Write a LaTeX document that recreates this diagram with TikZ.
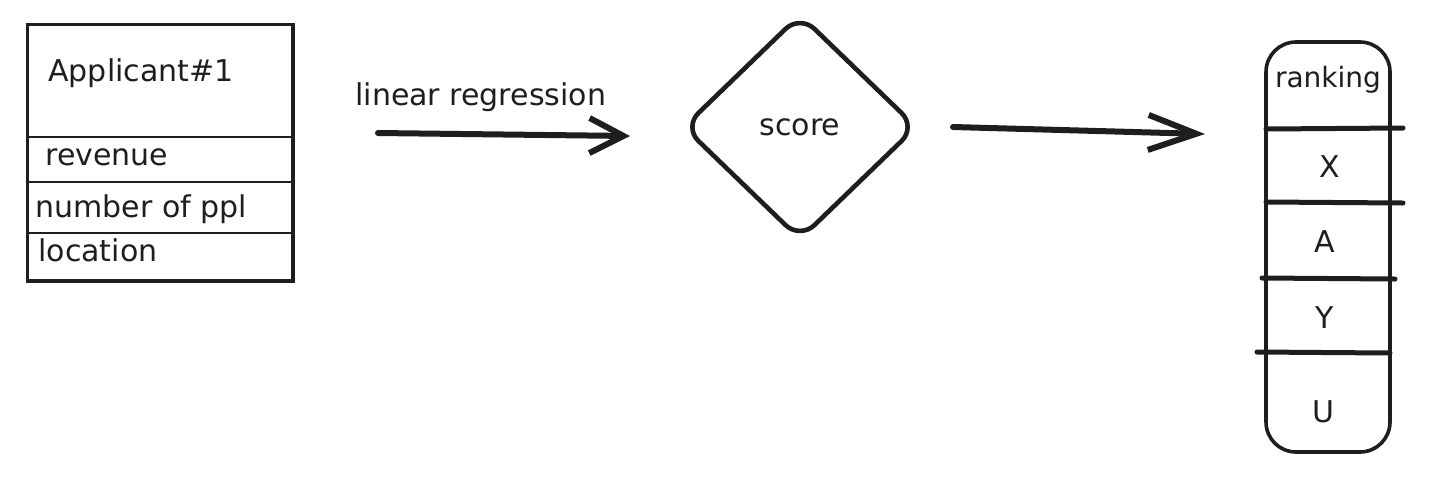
\documentclass[tikz,border=0pt]{standalone}
\usepackage{fontspec}
\setmainfont{DejaVu Sans}
\usetikzlibrary{arrows.meta,shapes.geometric}
\definecolor{ink}{HTML}{1E1E1E}
\begin{document}
\begin{tikzpicture}[x=0.5pt,y=-0.5pt,
  lbl/.style={font=\fontsize{15}{18}\selectfont, text=ink, inner sep=0pt},
  cell/.style={draw=ink, line width=1pt, minimum width=132pt, inner sep=0pt, anchor=north west},
  flow/.style={draw=ink, line width=3pt, line cap=round, line join=round},
  divider/.style={draw=ink, line width=2.5pt, line cap=round}]
\useasboundingbox (0,0) rectangle (1456,478);

% Applicant table
\node[cell, minimum height=56pt] (hdr) at (27,24) {};
\node[cell, minimum height=22.5pt] (rev) at (27,136) {};
\node[cell, minimum height=25.5pt] (num) at (27,181) {};
\node[cell, minimum height=23.5pt] (loc) at (27,232) {};
\draw[ink, line width=1.5pt] (hdr.north west) rectangle (loc.south east);
\node[lbl, anchor=west] (tapp) at (48,73) {Applicant\#1};
\node[lbl, anchor=west] (trev) at (45,157) {revenue};
\node[lbl, anchor=west] (tnum) at (35,209) {number of ppl};
\node[lbl, anchor=west] (tloc) at (38,250) {location};

% arrow 1
\coordinate (a1s) at (378,133);
\coordinate (a1e) at (630,136);
\draw[flow, -{Straight Barb[length=17pt, width=17.5pt]}] (a1s) -- (a1e);
\node[lbl, anchor=west] (tlin) at (355,97) {linear regression};

% diamond
\node[diamond, draw=ink, line width=2.3pt, minimum width=117pt, minimum height=113pt,
      rounded corners=10pt, inner sep=0pt, lbl] (score) at (800,127) {score};

% arrow 2
\coordinate (a2s) at (953,127);
\coordinate (a2e) at (1205,134);
\draw[flow, -{Straight Barb[length=24pt, width=17.5pt]}] (a2s) -- (a2e);

% ranking
\node[draw=ink, line width=1.8pt, rounded corners=15pt, minimum width=62pt,
      minimum height=205pt, inner sep=0pt] (rank) at (1328,247) {};
\draw[divider] (1266,129) -- (1403,128);
\draw[divider] (1266,202) -- (1403,203);
\draw[divider] (1262,278) -- (1395,279);
\draw[divider] (1257,352) -- (1390,353);
\node[lbl, font=\fontsize{14}{17}\selectfont] (trank) at (1328,80) {ranking};
\node[lbl] (tx) at (1330,167) {X};
\node[lbl] (ta) at (1325,242) {A};
\node[lbl] (ty) at (1325,318) {Y};
\node[lbl] (tu) at (1323,412) {U};
\end{tikzpicture}
\end{document}
